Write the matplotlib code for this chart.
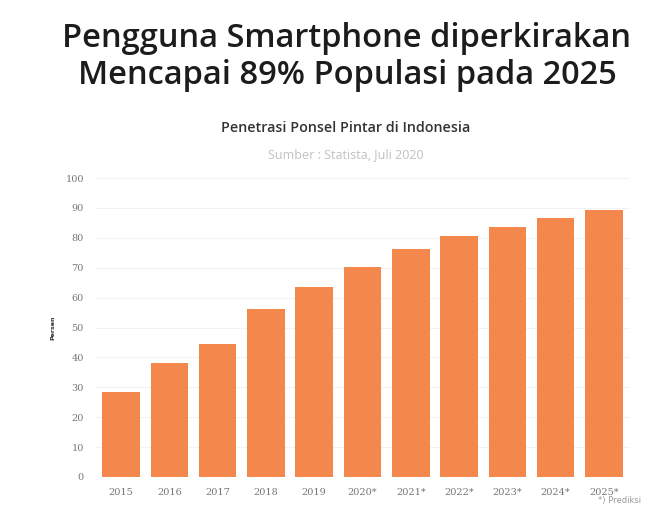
import matplotlib.pyplot as plt

years = ['2015', '2016', '2017', '2018', '2019', '2020*', '2021*', '2022*', '2023*', '2024*', '2025*']
persen = [28.5, 38.1, 44.5, 56.2, 63.6, 70.3, 76.2, 80.5, 83.6, 86.5, 89.3]
y_ticks = [0, 10, 20, 30, 40, 50, 60, 70, 80, 90, 100]

bar_color = '#F4874B'

fig = plt.figure(figsize=(6.51, 5.08), dpi=100)
fig.patch.set_facecolor('white')

# judul utama
fig.text(0.533, 0.888, "Pengguna Smartphone diperkirakan\nMencapai 89% Populasi pada 2025",
         ha='center', va='center', fontsize=23.5, family='Open Sans', weight='semibold',
         color='#1c1c1c', linespacing=1.15)
fig.text(0.531, 0.748, "Penetrasi Ponsel Pintar di Indonesia", ha='center', va='center',
         fontsize=10.3, family='Open Sans', weight='semibold', color='#333333')
fig.text(0.531, 0.695, "Sumber : Statista, Juli 2020", ha='center', va='center',
         fontsize=9, family='Open Sans', color='#c0c0c0')

ax = fig.add_axes([95 / 651, 31 / 508, 535 / 651, 299 / 508])
x = list(range(len(years)))
ax.bar(x, persen, width=0.78, color=bar_color, zorder=2)

ax.set_xlim(-0.54, 10.54)
ax.set_ylim(0, 100)
ax.set_yticks(y_ticks)
ax.set_xticks(x)
ax.set_xticklabels(years)
ax.grid(axis='y', color='#f2f2f2', linewidth=0.8, zorder=0)
for s in ax.spines.values():
    s.set_visible(False)
ax.tick_params(length=0, labelsize=7, labelcolor='#777777', pad=8)
for lbl in ax.get_xticklabels() + ax.get_yticklabels():
    lbl.set_family('DejaVu Serif')

ax.set_ylabel('Persen', fontsize=4.5, weight='bold', color='#333333', labelpad=7)

fig.text(0.985, 0.006, "*) Prediksi", ha='right', va='bottom', fontsize=6, color='#999999')

plt.savefig('out.png', dpi=100)
